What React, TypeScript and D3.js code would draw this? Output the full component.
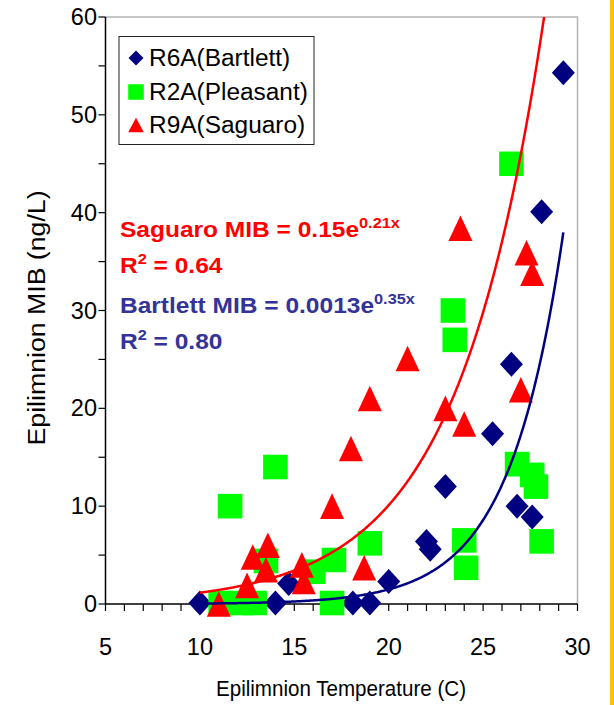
import React from "react";
import * as d3 from "d3";

// ---- data ----
const bartlettX = [10, 14, 14.7, 18.1, 19, 20, 22, 22.2, 23, 25.5, 26.8, 27.6, 26.5, 28.1, 29.25];
const bartlettY = [0.1, 0.1, 2.1, 0.1, 0.1, 2.3, 6.4, 5.6, 12, 17.4, 10, 8.9, 24.5, 40.1, 54.3];

const pleasantX = [11.6, 14, 11.1, 12.2, 12.9, 13.5, 16, 17.1, 17, 19, 24, 24.1, 26.8, 27.6, 27.8, 28.1, 23.4, 23.5, 26.5];
const pleasantY = [10, 14, 0.1, 0.1, 0.1, 4.4, 3.3, 4.5, 0.1, 6.2, 6.5, 3.7, 14.3, 13.2, 12, 6.4, 30, 27, 45];

const saguaroX = [11, 12.5, 12.8, 13.5, 13.6, 15.4, 15.5, 17, 18.7, 18, 19, 21, 23, 24, 23.8, 27, 27.3, 27.6];
const saguaroY = [0, 1.9, 4.8, 3.5, 6, 4, 2.3, 10, 3.7, 15.9, 21, 25.1, 20, 18.4, 38.4, 21.9, 35.9, 33.8];

const seriesNames = ["R6A(Bartlett)", "R2A(Pleasant)", "R9A(Saguaro)"];

// trendline curves y = a * e^(b x) as drawn in the picture, and their x ranges
const saguaroFit = [0.133, 0.2165];
const bartlettFit = [0.00136, 0.35];
const saguaroFitRange = [10, 29];
const bartlettFitRange = [10, 29.25];

const xTicks = [5, 10, 15, 20, 25, 30];
const yTicks = [0, 10, 20, 30, 40, 50, 60];

const NAVY = "#000080";
const GREEN = "#00FF00";
const RED = "#FF0000";
const BLUE_TXT = "#333399";
const FONT = "'Liberation Sans', Arial, Helvetica, sans-serif";

const W = 614;
const H = 705;

export default function App() {
  const x = d3.scaleLinear().domain([5, 30]).range([105.5, 577.5]);
  const y = d3.scaleLinear().domain([0, 60]).range([604, 17]);

  const diamond = (cx: number, cy: number, hw = 11.5, hh = 12.5) =>
    `M${cx},${cy - hh}L${cx + hw},${cy}L${cx},${cy + hh}L${cx - hw},${cy}Z`;
  const square = (cx: number, cy: number, s = 12.3) =>
    `M${cx - s},${cy - s}h${2 * s}v${2 * s}h${-2 * s}Z`;
  const triangle = (cx: number, cy: number, hw = 12, hh = 12.8) =>
    `M${cx},${cy - hh}L${cx + hw},${cy + hh}L${cx - hw},${cy + hh}Z`;

  const fitLine = (fit: number[], range: number[]) => {
    const xs = d3.range(range[0], range[1] + 0.0001, 0.05);
    if (xs[xs.length - 1] < range[1]) xs.push(range[1]);
    return d3
      .line<number>()
      .x((v) => x(v))
      .y((v) => y(fit[0] * Math.exp(fit[1] * v)))(xs) as string;
  };

  const minorX = d3.range(5, 30.01, 1);
  const minorY = d3.range(0, 60.01, 5);

  const stretch = (x0: number, k: number) => `translate(${x0},0) scale(${k},1) translate(${-x0},0)`;

  return (
    <div style={{ position: "absolute", left: 0, top: 0 }}>
      <svg width={W} height={H} style={{ display: "block", background: "#fff" }} fontFamily={FONT}>
        <defs>
          <clipPath id="plotClip">
            <rect x={x(5)} y={y(60)} width={x(30) - x(5)} height={y(0) - y(60) + 30} />
          </clipPath>
        </defs>
        <rect x={0} y={0} width={W} height={H} fill="#fff" />
        {/* yellow right edge */}
        <rect x={610} y={0} width={4} height={H} fill="#F9C300" />

        {/* plot frame (gray top / right) */}
        <path
          d={`M${x(5)},${y(60)}H${x(30)}V${y(0)}`}
          fill="none"
          stroke="#b4b4b4"
          strokeWidth={1.5}
        />

        {/* axes */}
        <line x1={x(5)} x2={x(30)} y1={y(0)} y2={y(0)} stroke="#000" strokeWidth={1.5} />
        <line x1={x(5)} x2={x(5)} y1={y(0)} y2={y(60)} stroke="#000" strokeWidth={1.5} />
        {minorX.map((v) => (
          <line key={"xt" + v} x1={x(v)} x2={x(v)} y1={y(0)} y2={y(0) + 7} stroke="#000" strokeWidth={1.2} />
        ))}
        {minorY.map((v) => (
          <line key={"yt" + v} x1={x(5) - 7} x2={x(5)} y1={y(v)} y2={y(v)} stroke="#000" strokeWidth={1.2} />
        ))}
        {xTicks.map((v) => (
          <text key={"xl" + v} x={x(v)} y={655} textAnchor="middle" fontSize={23.5} fill="#000">
            {v}
          </text>
        ))}
        {yTicks.map((v) => (
          <text key={"yl" + v} x={97} y={y(v) + 8} textAnchor="end" fontSize={23.5} fill="#000">
            {v}
          </text>
        ))}
        <text
          x={341}
          y={696}
          textAnchor="middle"
          fontSize={22}
          fill="#000"
          textLength={250}
          lengthAdjust="spacingAndGlyphs"
        >
          Epilimnion Temperature (C)
        </text>
        <text
          transform={`translate(45,318) rotate(-90)`}
          textAnchor="middle"
          fontSize={23}
          fill="#000"
          textLength={255}
          lengthAdjust="spacingAndGlyphs"
        >
          Epilimnion MIB (ng/L)
        </text>

        {/* markers */}
        <g>
          {bartlettX.map((v, i) => (
            <path key={"b" + i} d={diamond(x(v), y(bartlettY[i]))} fill={NAVY} />
          ))}
          {pleasantX.map((v, i) => (
            <path key={"p" + i} d={square(x(v), y(pleasantY[i]))} fill={GREEN} />
          ))}
          {saguaroX.map((v, i) => (
            <path key={"s" + i} d={triangle(x(v), y(saguaroY[i]))} fill={RED} />
          ))}
        </g>

        {/* trendlines */}
        <g clipPath="url(#plotClip)">
          <path d={fitLine(saguaroFit, saguaroFitRange)} fill="none" stroke={RED} strokeWidth={2.5} />
          <path d={fitLine(bartlettFit, bartlettFitRange)} fill="none" stroke={NAVY} strokeWidth={2.5} />
        </g>

        {/* legend */}
        <rect x={119} y={36.5} width={195} height={108} fill="#fff" stroke="#222" strokeWidth={1} />
        <path d={diamond(136, 58, 7.5, 7.5)} fill={NAVY} />
        <path d={square(136, 92, 7.8)} fill={GREEN} />
        <path d={triangle(136, 125, 7.8, 7.2)} fill={RED} />
        {seriesNames.map((n, i) => (
          <text key={n} x={149} y={66 + i * 33.7} fontSize={23.5} fill="#000" transform={stretch(149, 1.04)}>
            {n}
          </text>
        ))}

        {/* annotations */}
        <g transform={stretch(120, 1.09)} fontWeight="bold">
          <text x={120} y={237} fontSize={22.5} fill={RED}>
            Saguaro MIB = 0.15e
            <tspan fontSize={15} dy={-9}>0.21x</tspan>
          </text>
          <text x={120} y={273.5} fontSize={22.5} fill={RED}>
            R<tspan fontSize={15} dy={-9}>2</tspan>
            <tspan dy={9}> = 0.64</tspan>
          </text>
          <text x={120} y={313} fontSize={22.5} fill={BLUE_TXT}>
            Bartlett MIB = 0.0013e
            <tspan fontSize={15} dy={-9}>0.35x</tspan>
          </text>
          <text x={120} y={349} fontSize={22.5} fill={BLUE_TXT}>
            R<tspan fontSize={15} dy={-9}>2</tspan>
            <tspan dy={9}> = 0.80</tspan>
          </text>
        </g>
      </svg>
    </div>
  );
}
